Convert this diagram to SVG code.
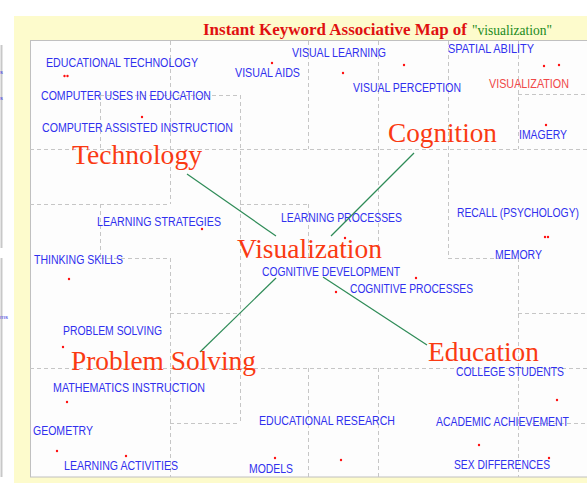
<svg xmlns="http://www.w3.org/2000/svg" width="587" height="483" viewBox="0 0 587 483">
<style>
.grid line{stroke:#c6c6c6;stroke-width:1;stroke-dasharray:4 3;fill:none}
.kw{font-family:"Liberation Sans",Arial,sans-serif;font-size:12px;fill:#3030ee}
.kw.hl{fill:#f04848}
.big{font-family:"Liberation Serif","Times New Roman",serif;font-size:27px;fill:#fa3a12}
.dot{fill:#ff1010}
.conn line{stroke:#2e8b57;stroke-width:1.2}
.frag{font-family:"Liberation Sans",Arial,sans-serif;font-size:6px;fill:#4040e0}
</style>
<rect x="0" y="0" width="587" height="483" fill="#ffffff"/>
<g id="left-strip">
<line x1="1.5" y1="45" x2="1.5" y2="248" stroke="#c8c8c8" stroke-width="2"/>
<line x1="1.5" y1="258" x2="1.5" y2="477" stroke="#c8c8c8" stroke-width="2"/>
<text class="frag" x="0" y="74">s</text>
<text class="frag" x="0" y="100">s</text>
<text class="frag" x="0" y="319">ms</text>
</g>
<rect x="14" y="16" width="573" height="467" fill="#fdfbcc"/>
<rect x="30.5" y="40.5" width="560" height="436.5" fill="#fdfdfd" stroke="#c0c0c0" stroke-width="1"/>
<g id="title">
<text x="203" y="35" font-family="Liberation Serif,'Times New Roman',serif" font-weight="bold" font-size="17" fill="#e01010" textLength="264" lengthAdjust="spacingAndGlyphs">Instant Keyword Associative Map of</text>
<text x="472" y="35" font-family="Liberation Serif,'Times New Roman',serif" font-size="14" fill="#208a20" textLength="80" lengthAdjust="spacingAndGlyphs">"visualization"</text>
</g>
<g class="grid" id="grid">
<line x1="30" y1="149.5" x2="587" y2="149.5"/>
<line x1="100" y1="95.5" x2="240" y2="95.5"/>
<line x1="518" y1="94.5" x2="587" y2="94.5"/>
<line x1="30" y1="204.5" x2="170" y2="204.5"/>
<line x1="240" y1="204.5" x2="308" y2="204.5"/>
<line x1="100" y1="258.5" x2="170" y2="258.5"/>
<line x1="448" y1="258.5" x2="518" y2="258.5"/>
<line x1="170" y1="313.5" x2="240" y2="313.5"/>
<line x1="518" y1="313.5" x2="587" y2="313.5"/>
<line x1="30" y1="368.5" x2="587" y2="368.5"/>
<line x1="170" y1="423.5" x2="240" y2="423.5"/>
<line x1="518" y1="423.5" x2="587" y2="423.5"/>
<line x1="170.5" y1="41" x2="170.5" y2="204"/>
<line x1="170.5" y1="258" x2="170.5" y2="477"/>
<line x1="100.5" y1="95" x2="100.5" y2="149"/>
<line x1="100.5" y1="204" x2="100.5" y2="258"/>
<line x1="240.5" y1="95" x2="240.5" y2="423"/>
<line x1="308.5" y1="41" x2="308.5" y2="149"/>
<line x1="308.5" y1="204" x2="308.5" y2="258"/>
<line x1="308.5" y1="368" x2="308.5" y2="477"/>
<line x1="378.5" y1="41" x2="378.5" y2="258"/>
<line x1="378.5" y1="368" x2="378.5" y2="477"/>
<line x1="448.5" y1="41" x2="448.5" y2="258"/>
<line x1="518.5" y1="41" x2="518.5" y2="149"/>
<line x1="518.5" y1="258" x2="518.5" y2="477"/>
</g>
<g id="dots">
<circle class="dot" cx="64.5" cy="76" r="1.2"/><circle class="dot" cx="67.5" cy="76" r="1.2"/>
<circle class="dot" cx="142" cy="117" r="1.2"/>
<circle class="dot" cx="272" cy="63" r="1.2"/>
<circle class="dot" cx="343" cy="73" r="1.2"/>
<circle class="dot" cx="404" cy="65" r="1.2"/>
<circle class="dot" cx="544" cy="66" r="1.2"/>
<circle class="dot" cx="559" cy="65" r="1.2"/>
<circle class="dot" cx="546" cy="125" r="1.2"/>
<circle class="dot" cx="202" cy="229" r="1.2"/>
<circle class="dot" cx="69" cy="279" r="1.2"/>
<circle class="dot" cx="345" cy="238" r="1.2"/>
<circle class="dot" cx="545" cy="237" r="1.2"/><circle class="dot" cx="548" cy="237" r="1.2"/>
<circle class="dot" cx="416" cy="278" r="1.2"/>
<circle class="dot" cx="336" cy="292" r="1.2"/>
<circle class="dot" cx="63" cy="347" r="1.2"/>
<circle class="dot" cx="67" cy="402" r="1.2"/>
<circle class="dot" cx="57" cy="451" r="1.2"/>
<circle class="dot" cx="126" cy="456" r="1.2"/>
<circle class="dot" cx="275" cy="458" r="1.2"/>
<circle class="dot" cx="341" cy="460" r="1.2"/>
<circle class="dot" cx="557" cy="400" r="1.2"/>
<circle class="dot" cx="479" cy="445" r="1.2"/>
<circle class="dot" cx="549" cy="458" r="1.2"/>
</g>
<g id="keywords">
<g id="kw-edtech"><text class="kw" x="46" y="67" textLength="152" lengthAdjust="spacingAndGlyphs">EDUCATIONAL TECHNOLOGY</text></g>
<g id="kw-cuie"><text class="kw" x="41" y="100" textLength="170" lengthAdjust="spacingAndGlyphs">COMPUTER USES IN EDUCATION</text></g>
<g id="kw-cai"><text class="kw" x="42" y="132" textLength="191" lengthAdjust="spacingAndGlyphs">COMPUTER ASSISTED INSTRUCTION</text></g>
<g id="kw-visaids"><text class="kw" x="235" y="77" textLength="65" lengthAdjust="spacingAndGlyphs">VISUAL AIDS</text></g>
<g id="kw-vislearn"><text class="kw" x="292" y="57" textLength="94" lengthAdjust="spacingAndGlyphs">VISUAL LEARNING</text></g>
<g id="kw-visperc"><text class="kw" x="353" y="92" textLength="108" lengthAdjust="spacingAndGlyphs">VISUAL PERCEPTION</text></g>
<g id="kw-spatial"><text class="kw" x="448" y="53" textLength="86" lengthAdjust="spacingAndGlyphs">SPATIAL ABILITY</text></g>
<g id="kw-visualization"><text class="kw hl" x="489" y="88" textLength="80" lengthAdjust="spacingAndGlyphs">VISUALIZATION</text></g>
<g id="kw-imagery"><text class="kw" x="519" y="139" textLength="48" lengthAdjust="spacingAndGlyphs">IMAGERY</text></g>
<g id="kw-lstrat"><text class="kw" x="97" y="226" textLength="124" lengthAdjust="spacingAndGlyphs">LEARNING STRATEGIES</text></g>
<g id="kw-thinking"><text class="kw" x="34" y="264" textLength="89" lengthAdjust="spacingAndGlyphs">THINKING SKILLS</text></g>
<g id="kw-lproc"><text class="kw" x="281" y="222" textLength="121" lengthAdjust="spacingAndGlyphs">LEARNING PROCESSES</text></g>
<g id="kw-recall"><text class="kw" x="457" y="217" textLength="122" lengthAdjust="spacingAndGlyphs">RECALL (PSYCHOLOGY)</text></g>
<g id="kw-memory"><text class="kw" x="495" y="259" textLength="47" lengthAdjust="spacingAndGlyphs">MEMORY</text></g>
<g id="kw-cogdev"><text class="kw" x="262" y="276" textLength="138" lengthAdjust="spacingAndGlyphs">COGNITIVE DEVELOPMENT</text></g>
<g id="kw-cogproc"><text class="kw" x="350" y="293" textLength="123" lengthAdjust="spacingAndGlyphs">COGNITIVE PROCESSES</text></g>
<g id="kw-probsolv"><text class="kw" x="63" y="335" textLength="99" lengthAdjust="spacingAndGlyphs">PROBLEM SOLVING</text></g>
<g id="kw-mathinst"><text class="kw" x="53" y="392" textLength="152" lengthAdjust="spacingAndGlyphs">MATHEMATICS INSTRUCTION</text></g>
<g id="kw-geometry"><text class="kw" x="33" y="435" textLength="60" lengthAdjust="spacingAndGlyphs">GEOMETRY</text></g>
<g id="kw-lact"><text class="kw" x="64" y="470" textLength="114" lengthAdjust="spacingAndGlyphs">LEARNING ACTIVITIES</text></g>
<g id="kw-models"><text class="kw" x="249" y="473" textLength="44" lengthAdjust="spacingAndGlyphs">MODELS</text></g>
<g id="kw-edres"><text class="kw" x="259" y="425" textLength="136" lengthAdjust="spacingAndGlyphs">EDUCATIONAL RESEARCH</text></g>
<g id="kw-college"><text class="kw" x="456" y="376" textLength="108" lengthAdjust="spacingAndGlyphs">COLLEGE STUDENTS</text></g>
<g id="kw-acad"><text class="kw" x="436" y="426" textLength="133" lengthAdjust="spacingAndGlyphs">ACADEMIC ACHIEVEMENT</text></g>
<g id="kw-sexdiff"><text class="kw" x="454" y="469" textLength="96" lengthAdjust="spacingAndGlyphs">SEX DIFFERENCES</text></g>
</g>
<g class="conn" id="connectors">
<line x1="187" y1="174" x2="276" y2="236"/>
<line x1="414" y1="153" x2="331" y2="236"/>
<line x1="200" y1="352" x2="276" y2="278"/>
<line x1="323" y1="277" x2="427" y2="345"/>
</g>
<g id="node-technology"><text class="big" x="72" y="164" textLength="130" lengthAdjust="spacingAndGlyphs">Technology</text></g>
<g id="node-cognition"><text class="big" x="388" y="142" textLength="109" lengthAdjust="spacingAndGlyphs">Cognition</text></g>
<g id="node-visualization"><text class="big" x="237" y="258" textLength="145" lengthAdjust="spacingAndGlyphs">Visualization</text></g>
<g id="node-problem"><text class="big" x="71" y="370" textLength="185" lengthAdjust="spacingAndGlyphs">Problem Solving</text></g>
<g id="node-education"><text class="big" x="428" y="361" textLength="111" lengthAdjust="spacingAndGlyphs">Education</text></g>
</svg>
